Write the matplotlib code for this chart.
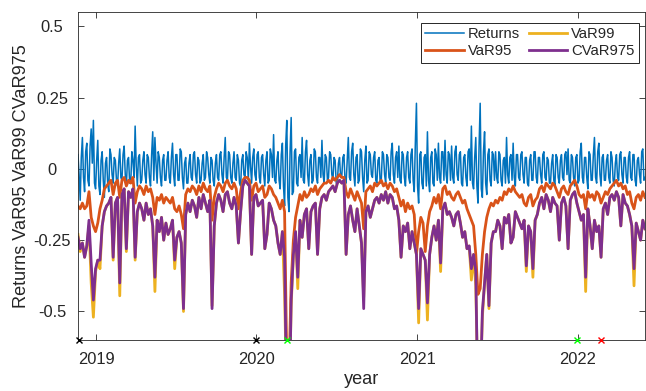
import matplotlib
matplotlib.use("Agg")
import matplotlib.dates as mdates
import matplotlib.pyplot as plt
import pandas as pd

plt.rcParams["font.family"] = ["Liberation Sans", "DejaVu Sans"]

AXIS_COLOR = "#262626"
COLORS = {"Returns": "#0072BD", "VaR95": "#D95319", "VaR99": "#EDB120", "CVaR975": "#7E2F8E"}

# 2018-11-21 .. 2022-06-03; returns every 2.5 days, risk measures every 5 days
START_DATE = "2018-11-21"
RETURNS_STEP = "60h"
RISK_STEP = "5D"

returns = [
    0.05, -0.02, -0.11, 0.04, 0.11, -0.03, -0.08, 0.06, 0.09, -0.04, -0.06, 0.08, 0.14, 0.02, 0.17, -0.05, -0.07, 0.03, 0.10, -0.06,
    -0.09, 0.03, 0.06, -0.04, -0.10, 0.02, 0.04, -0.05, -0.08, 0.07, 0.05, -0.02, -0.05, 0.04, 0.03, -0.04, -0.06, 0.02, 0.07, -0.03,
    -0.04, 0.05, 0.08, -0.02, -0.06, 0.03, 0.04, -0.05, -0.05, 0.06, 0.03, -0.03, 0.15, 0.01, -0.06, 0.04, 0.05, -0.05, -0.04, 0.03,
    0.06, -0.02, -0.05, 0.05, 0.04, -0.03, -0.06, 0.05, 0.13, -0.04, 0.11, 0.02, -0.05, 0.06, 0.04, -0.03, -0.06, 0.03, 0.05, -0.04,
    -0.04, 0.03, 0.06, -0.03, -0.05, 0.04, 0.09, -0.02, -0.06, 0.05, 0.05, -0.04, -0.04, 0.07, 0.06, -0.03, -0.07, 0.02, 0.04, -0.05,
    -0.05, 0.02, 0.05, -0.03, -0.04, 0.05, 0.06, -0.02, -0.05, 0.04, 0.03, -0.05, -0.04, 0.02, 0.05, -0.04, -0.03, 0.06, 0.04, -0.02,
    -0.05, 0.04, 0.03, -0.04, -0.06, 0.02, 0.05, -0.03, -0.04, 0.05, 0.06, -0.02, -0.05, 0.04, 0.11, -0.03, -0.04, 0.06, 0.05, -0.03,
    -0.05, 0.02, 0.06, -0.03, -0.04, 0.05, 0.03, -0.05, -0.06, 0.03, 0.05, -0.02, -0.03, 0.06, 0.04, -0.04, 0.09, 0.01, -0.05, 0.04,
    0.07, -0.02, -0.04, 0.05, 0.06, -0.03, -0.05, 0.04, 0.05, -0.02, -0.06, 0.03, 0.06, -0.05, -0.04, 0.07, 0.05, -0.03, 0.12, -0.04,
    -0.05, 0.03, 0.06, -0.04, -0.07, 0.05, 0.09, -0.06, -0.13, 0.08, 0.17, -0.10, -0.15, 0.06, 0.18, -0.09, -0.08, 0.06, 0.07, -0.05,
    -0.06, 0.04, 0.05, -0.03, 0.11, -0.04, -0.05, 0.06, 0.10, -0.02, -0.06, 0.03, 0.05, -0.05, -0.04, 0.07, 0.06, -0.03, -0.05, 0.04,
    0.04, -0.03, 0.10, -0.02, -0.05, 0.05, 0.04, -0.04, -0.03, 0.06, 0.05, -0.02, -0.04, 0.04, 0.03, -0.05, -0.05, 0.02, 0.04, -0.03,
    -0.03, 0.04, 0.05, -0.04, -0.05, 0.03, 0.11, -0.03, -0.04, 0.06, 0.09, -0.02, -0.06, 0.04, 0.05, -0.05, -0.04, 0.07, 0.06, -0.03,
    -0.08, 0.03, 0.08, -0.05, -0.04, 0.06, 0.05, -0.02, -0.03, 0.04, 0.06, -0.04, -0.05, 0.03, 0.04, -0.05, -0.04, 0.06, 0.05, -0.02,
    -0.05, 0.05, 0.04, -0.03, -0.04, 0.06, 0.09, -0.02, -0.05, 0.04, 0.06, -0.03, 0.08, -0.04, -0.05, 0.06, 0.05, -0.03, -0.06, 0.04,
    0.06, -0.03, -0.05, 0.05, 0.07, -0.04, -0.08, 0.09, 0.23, -0.06, -0.12, 0.05, 0.06, -0.05, -0.07, 0.04, 0.05, -0.06, 0.13, -0.04,
    -0.08, 0.04, 0.06, -0.05, -0.06, 0.07, 0.05, -0.04, 0.09, -0.03, -0.05, 0.06, 0.06, -0.04, 0.10, -0.02, -0.05, 0.06, 0.05, -0.04,
    0.08, -0.03, -0.05, 0.06, 0.08, -0.02, -0.04, 0.05, 0.06, -0.05, -0.06, 0.04, 0.05, -0.03, -0.06, 0.06, 0.07, -0.04, 0.15, -0.05,
    -0.07, 0.04, 0.11, -0.06, -0.12, 0.08, 0.23, -0.07, -0.10, 0.06, 0.13, -0.05, -0.09, 0.05, 0.07, -0.04, -0.06, 0.06, 0.05, -0.04,
    0.06, -0.03, -0.05, 0.06, 0.05, -0.04, -0.06, 0.03, 0.04, -0.05, 0.11, -0.02, -0.05, 0.04, 0.05, -0.04, 0.09, -0.03, -0.06, 0.05,
    0.05, -0.03, -0.04, 0.05, 0.06, -0.02, -0.05, 0.04, 0.04, -0.05, -0.06, 0.03, 0.05, -0.04, -0.04, 0.06, 0.06, -0.03, -0.05, 0.04,
    0.04, -0.02, -0.05, 0.05, 0.06, -0.03, -0.04, 0.04, 0.03, -0.05, -0.05, 0.02, 0.05, -0.04, -0.06, 0.05, 0.04, -0.03, -0.05, 0.03,
    0.05, -0.03, -0.04, 0.05, 0.06, -0.02, 0.07, -0.04, -0.05, 0.05, 0.04, -0.03, -0.06, 0.04, 0.05, -0.05, -0.04, 0.06, 0.09, -0.03,
    -0.05, 0.04, 0.04, -0.03, -0.07, 0.06, 0.05, -0.04, -0.04, 0.05, 0.11, -0.03, -0.05, 0.06, 0.09, -0.02, -0.06, 0.04, 0.05, -0.04,
    -0.04, 0.03, 0.05, -0.03, -0.05, 0.06, 0.04, -0.04, -0.06, 0.02, 0.05, -0.03, -0.04, 0.05, 0.06, -0.02, -0.05, 0.04, 0.04, -0.03,
    -0.05, 0.04, 0.06, -0.03, -0.04, 0.05, 0.05, -0.04, -0.06, 0.03, 0.04, -0.02, -0.05, 0.06, 0.07, -0.04, -0.03,
]

var95 = [
    -0.13, -0.14, -0.12, -0.14, -0.13, -0.08, -0.17, -0.20, -0.22, -0.19,
    -0.14, -0.11, -0.07, -0.06, -0.05, -0.04, -0.09, -0.05, -0.04, -0.10,
    -0.04, -0.03, -0.06, -0.04, -0.05, -0.03, -0.12, -0.08, -0.06, -0.07,
    -0.09, -0.06, -0.08, -0.07, -0.10, -0.16, -0.10, -0.11, -0.09, -0.12,
    -0.10, -0.11, -0.12, -0.10, -0.14, -0.15, -0.13, -0.16, -0.21, -0.09,
    -0.07, -0.08, -0.06, -0.07, -0.09, -0.06, -0.08, -0.05, -0.07, -0.08,
    -0.06, -0.18, -0.10, -0.07, -0.05, -0.06, -0.08, -0.05, -0.04, -0.06,
    -0.07, -0.05, -0.07, -0.14, -0.08, -0.04, -0.03, -0.03, -0.04, -0.11,
    -0.06, -0.05, -0.08, -0.07, -0.06, -0.10, -0.09, -0.06, -0.07, -0.09,
    -0.10, -0.12, -0.14, -0.11, -0.15, -0.68, -0.72, -0.40, -0.25, -0.17,
    -0.13, -0.09, -0.11, -0.08, -0.10, -0.09, -0.07, -0.08, -0.06, -0.09,
    -0.07, -0.06, -0.05, -0.05, -0.04, -0.05, -0.03, -0.04, -0.03, -0.02,
    -0.03, -0.03, -0.08, -0.10, -0.07, -0.09, -0.11, -0.08, -0.10, -0.12,
    -0.21, -0.08, -0.07, -0.06, -0.08, -0.05, -0.06, -0.05, -0.04, -0.06,
    -0.05, -0.07, -0.05, -0.06, -0.08, -0.07, -0.10, -0.13, -0.11, -0.15,
    -0.12, -0.14, -0.13, -0.16, -0.30, -0.22, -0.17, -0.19, -0.29, -0.20,
    -0.15, -0.13, -0.10, -0.12, -0.09, -0.14, -0.07, -0.06, -0.09, -0.08,
    -0.10, -0.11, -0.09, -0.08, -0.10, -0.12, -0.11, -0.14, -0.16, -0.18,
    -0.20, -0.30, -0.44, -0.42, -0.30, -0.22, -0.17, -0.14, -0.12, -0.13,
    -0.11, -0.12, -0.10, -0.11, -0.08, -0.09, -0.07, -0.08, -0.06, -0.08,
    -0.09, -0.10, -0.09, -0.12, -0.13, -0.10, -0.09, -0.13, -0.11, -0.10,
    -0.07, -0.06, -0.08, -0.05, -0.06, -0.07, -0.05, -0.06, -0.08, -0.10,
    -0.07, -0.06, -0.08, -0.09, -0.06, -0.05, -0.04, -0.06, -0.09, -0.10,
    -0.09, -0.14, -0.08, -0.10, -0.09, -0.11, -0.08, -0.09, -0.12, -0.10,
    -0.08, -0.09, -0.07, -0.06, -0.05, -0.04, -0.06, -0.05, -0.07, -0.06,
    -0.09, -0.08, -0.12, -0.14, -0.10, -0.09, -0.11, -0.08, -0.10,
]

var99 = [
    -0.23, -0.29, -0.26, -0.31, -0.27, -0.20, -0.40, -0.52, -0.36, -0.32,
    -0.35, -0.20, -0.15, -0.13, -0.12, -0.10, -0.32, -0.12, -0.10, -0.445,
    -0.09, -0.07, -0.29, -0.08, -0.10, -0.07, -0.32, -0.15, -0.12, -0.14,
    -0.18, -0.12, -0.16, -0.14, -0.20, -0.43, -0.18, -0.22, -0.17, -0.25,
    -0.19, -0.23, -0.21, -0.18, -0.35, -0.24, -0.22, -0.26, -0.50, -0.16,
    -0.12, -0.15, -0.11, -0.13, -0.17, -0.10, -0.14, -0.09, -0.12, -0.15,
    -0.11, -0.48, -0.20, -0.12, -0.09, -0.11, -0.15, -0.09, -0.08, -0.12,
    -0.14, -0.10, -0.13, -0.26, -0.15, -0.06, -0.04, -0.05, -0.06, -0.30,
    -0.10, -0.09, -0.13, -0.12, -0.11, -0.28, -0.23, -0.12, -0.14, -0.18,
    -0.20, -0.26, -0.30, -0.22, -0.44, -0.80, -0.85, -0.48, -0.30, -0.22,
    -0.42, -0.18, -0.24, -0.16, -0.14, -0.28, -0.15, -0.13, -0.12, -0.30,
    -0.14, -0.10, -0.09, -0.11, -0.08, -0.07, -0.06, -0.08, -0.05, -0.04,
    -0.05, -0.04, -0.30, -0.16, -0.13, -0.18, -0.22, -0.14, -0.20, -0.26,
    -0.45, -0.15, -0.13, -0.17, -0.14, -0.11, -0.10, -0.12, -0.09, -0.11,
    -0.08, -0.12, -0.09, -0.10, -0.14, -0.13, -0.18, -0.31, -0.20, -0.22,
    -0.19, -0.28, -0.22, -0.26, -0.30, -0.54, -0.28, -0.30, -0.32, -0.53,
    -0.30, -0.24, -0.20, -0.25, -0.18, -0.36, -0.14, -0.12, -0.16, -0.15,
    -0.17, -0.20, -0.16, -0.15, -0.19, -0.24, -0.22, -0.28, -0.27, -0.39,
    -0.30, -0.41, -0.80, -0.78, -0.52, -0.40, -0.30, -0.49, -0.26, -0.22,
    -0.22, -0.18, -0.20, -0.28, -0.17, -0.19, -0.16, -0.26, -0.24, -0.15,
    -0.17, -0.19, -0.21, -0.18, -0.36, -0.20, -0.22, -0.38, -0.18, -0.16,
    -0.12, -0.10, -0.14, -0.09, -0.11, -0.15, -0.10, -0.12, -0.13, -0.25,
    -0.12, -0.10, -0.13, -0.28, -0.11, -0.09, -0.08, -0.12, -0.15, -0.18,
    -0.16, -0.43, -0.14, -0.20, -0.28, -0.18, -0.22, -0.20, -0.31, -0.14,
    -0.12, -0.16, -0.10, -0.09, -0.11, -0.08, -0.10, -0.20, -0.09, -0.12,
    -0.13, -0.16, -0.20, -0.41, -0.19, -0.22, -0.25, -0.18, -0.21,
]

cvar975 = [
    -0.24, -0.28, -0.26, -0.31, -0.27, -0.18, -0.33, -0.46, -0.35, -0.32,
    -0.32, -0.20, -0.15, -0.13, -0.12, -0.10, -0.31, -0.12, -0.10, -0.40,
    -0.09, -0.07, -0.28, -0.08, -0.10, -0.07, -0.31, -0.15, -0.12, -0.14,
    -0.18, -0.12, -0.16, -0.14, -0.20, -0.38, -0.18, -0.22, -0.17, -0.25,
    -0.19, -0.23, -0.21, -0.18, -0.32, -0.24, -0.22, -0.26, -0.49, -0.16,
    -0.12, -0.15, -0.11, -0.13, -0.17, -0.10, -0.14, -0.09, -0.12, -0.15,
    -0.11, -0.49, -0.20, -0.12, -0.09, -0.11, -0.15, -0.09, -0.08, -0.12,
    -0.14, -0.10, -0.13, -0.26, -0.15, -0.06, -0.04, -0.05, -0.06, -0.30,
    -0.10, -0.09, -0.13, -0.12, -0.11, -0.28, -0.23, -0.12, -0.14, -0.18,
    -0.20, -0.26, -0.30, -0.22, -0.31, -0.85, -0.90, -0.46, -0.30, -0.22,
    -0.38, -0.18, -0.24, -0.16, -0.14, -0.28, -0.15, -0.13, -0.12, -0.30,
    -0.14, -0.10, -0.09, -0.11, -0.08, -0.07, -0.06, -0.08, -0.05, -0.04,
    -0.05, -0.04, -0.30, -0.16, -0.13, -0.18, -0.22, -0.14, -0.20, -0.26,
    -0.49, -0.15, -0.13, -0.17, -0.14, -0.11, -0.10, -0.12, -0.09, -0.11,
    -0.08, -0.12, -0.09, -0.10, -0.14, -0.13, -0.18, -0.31, -0.20, -0.22,
    -0.19, -0.28, -0.22, -0.26, -0.30, -0.49, -0.28, -0.30, -0.32, -0.47,
    -0.30, -0.24, -0.20, -0.25, -0.18, -0.33, -0.14, -0.12, -0.16, -0.15,
    -0.17, -0.20, -0.16, -0.15, -0.19, -0.24, -0.22, -0.28, -0.27, -0.35,
    -0.30, -0.36, -0.85, -0.80, -0.50, -0.40, -0.30, -0.48, -0.26, -0.22,
    -0.22, -0.18, -0.20, -0.28, -0.17, -0.19, -0.16, -0.26, -0.24, -0.15,
    -0.17, -0.19, -0.21, -0.18, -0.34, -0.20, -0.22, -0.35, -0.18, -0.16,
    -0.12, -0.10, -0.14, -0.09, -0.11, -0.15, -0.10, -0.12, -0.13, -0.25,
    -0.12, -0.10, -0.13, -0.28, -0.11, -0.09, -0.08, -0.12, -0.15, -0.18,
    -0.16, -0.38, -0.14, -0.20, -0.28, -0.18, -0.22, -0.20, -0.31, -0.14,
    -0.12, -0.16, -0.10, -0.09, -0.11, -0.08, -0.10, -0.20, -0.09, -0.12,
    -0.13, -0.16, -0.20, -0.35, -0.19, -0.22, -0.25, -0.18, -0.21,
]

# event markers drawn on the bottom axis
event_dates = ["2018-11-23", "2019-12-31", "2020-03-11", "2021-12-31", "2022-02-24"]
event_colors = ["#000000", "#000000", "#00ff00", "#00ff00", "#ff0000"]

ytick_values = [-0.5, -0.25, 0, 0.25, 0.5]
ytick_labels = ["-0.5", "-0.25", "0", "0.25", "0.5"]

returns_dates = pd.date_range(START_DATE, periods=len(returns), freq=RETURNS_STEP)
dates = pd.date_range(START_DATE, periods=len(var95), freq=RISK_STEP)

fig = plt.figure(figsize=(6.46, 3.91), dpi=100)
ax = fig.add_axes([78 / 646, 51 / 391, 567 / 646, 328 / 391])

ax.plot(returns_dates, returns, color=COLORS["Returns"], linewidth=1.1, label="Returns")
ax.plot(dates, var95, color=COLORS["VaR95"], linewidth=2.0, label="VaR95")
ax.plot(dates, var99, color=COLORS["VaR99"], linewidth=2.0, label="VaR99")
ax.plot(dates, cvar975, color=COLORS["CVaR975"], linewidth=2.0, label="CVaR975")

for d, c in zip(pd.to_datetime(event_dates), event_colors):
    ax.plot([d], [0], transform=ax.get_xaxis_transform(), marker="x", color=c,
            markersize=4.5, markeredgewidth=1.0, linestyle="none", clip_on=False, zorder=5)

ax.set_xlim(dates[0], dates[-1])
ax.set_ylim(-0.6, 0.55)
ax.set_yticks(ytick_values, ytick_labels)
ax.xaxis.set_major_locator(mdates.YearLocator())
ax.xaxis.set_major_formatter(mdates.DateFormatter("%Y"))

for spine in ax.spines.values():
    spine.set_color(AXIS_COLOR)
    spine.set_linewidth(0.6)
ax.tick_params(direction="in", length=4, width=0.6, top=True, right=True,
               colors=AXIS_COLOR, labelsize=11.9)
ax.tick_params(axis="y", pad=18.7)
ax.tick_params(axis="x", pad=9.0)
for lbl in ax.get_yticklabels():
    lbl.set_horizontalalignment("center")

ax.set_xlabel("year", fontsize=13.1, color=AXIS_COLOR)
ax.set_ylabel("Returns VaR95 VaR99 CVaR975", fontsize=13.1, color=AXIS_COLOR)
ax.xaxis.set_label_coords(0.5, -0.095)
ax.yaxis.set_label_coords(-0.085, 0.5)

leg = ax.legend(ncol=2, loc="upper right", bbox_to_anchor=(0.9894, 0.9674),
                borderaxespad=0, fontsize=10.7, fancybox=False, framealpha=1,
                edgecolor=AXIS_COLOR, handlelength=2.6, handletextpad=0.25,
                columnspacing=0.6, labelspacing=0.2, borderpad=0.3)
leg.get_frame().set_linewidth(0.7)
for text in leg.get_texts():
    text.set_color(AXIS_COLOR)

fig.savefig("out.png", dpi=100)
